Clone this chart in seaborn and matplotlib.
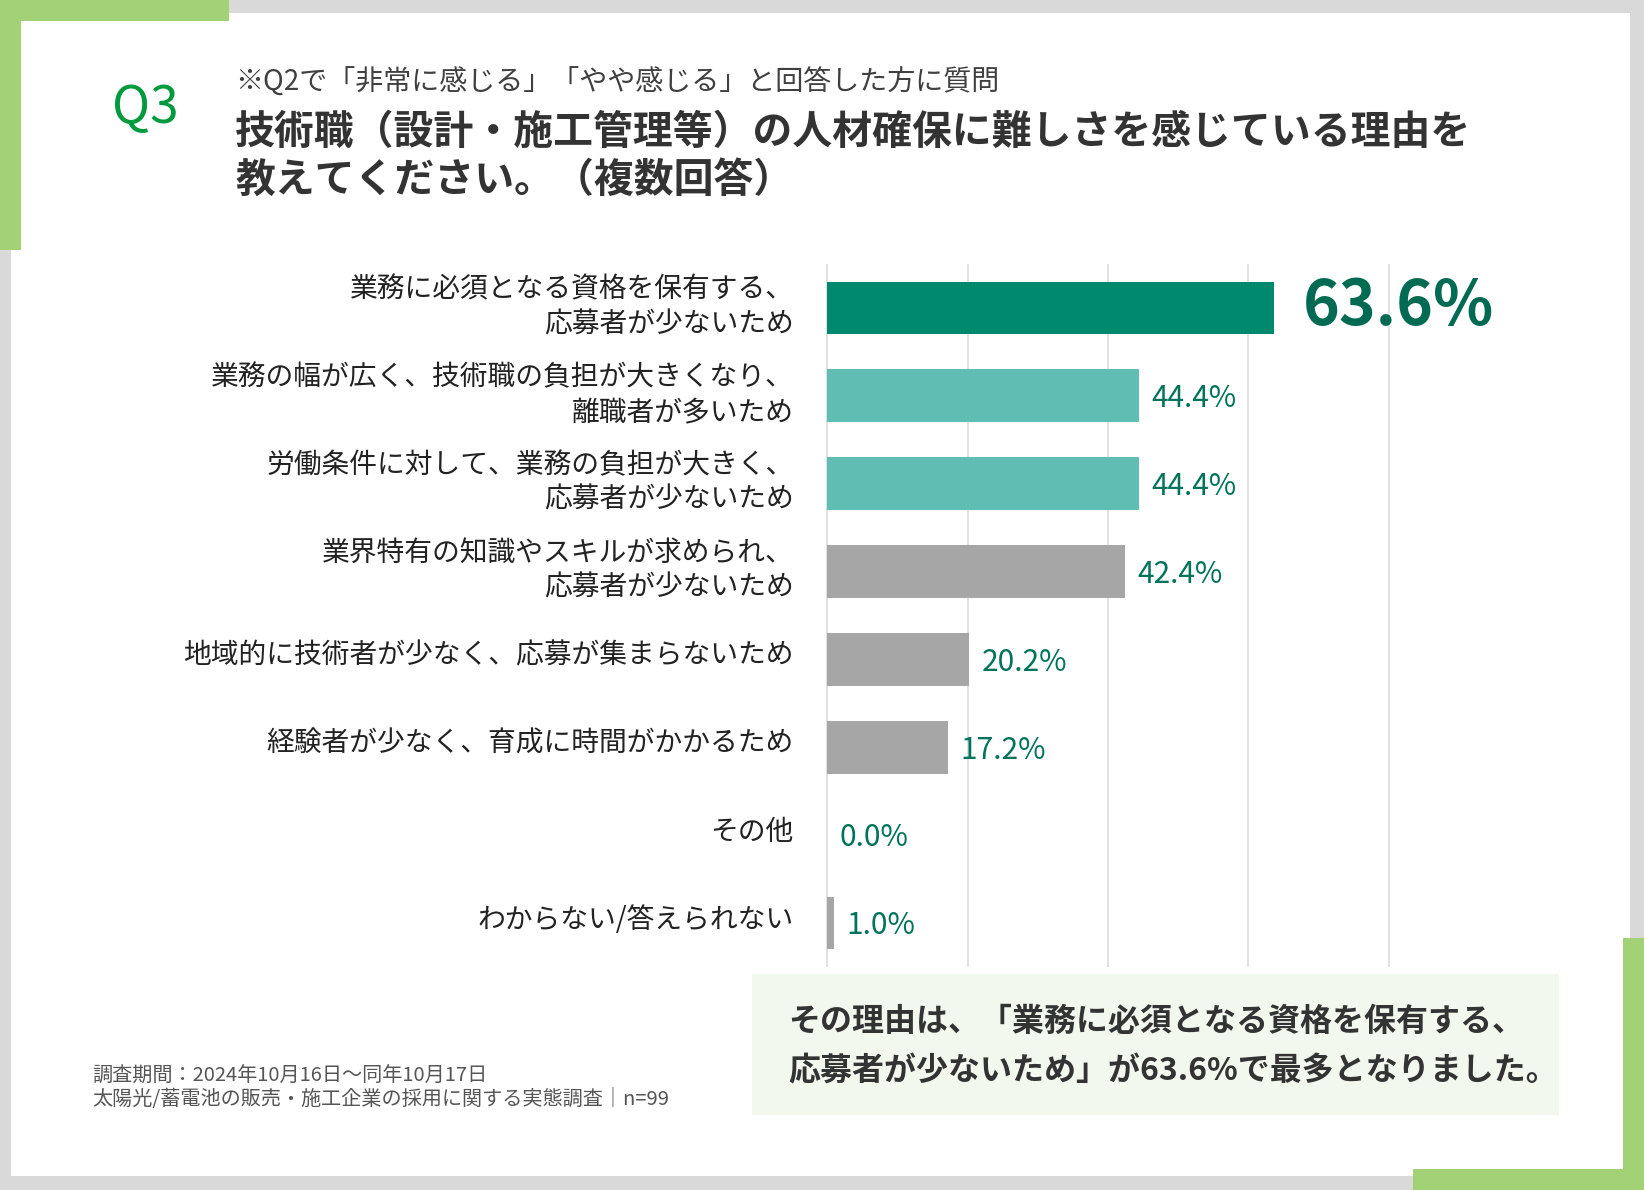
import matplotlib
matplotlib.use('Agg')
import matplotlib.pyplot as plt
from matplotlib.patches import Rectangle
from matplotlib.transforms import ScaledTranslation
import seaborn as sns

# data
categories = [
    '業務に必須となる資格を保有する、\n応募者が少ないため',
    '業務の幅が広く、技術職の負担が大きくなり、\n離職者が多いため',
    '労働条件に対して、業務の負担が大きく、\n応募者が少ないため',
    '業界特有の知識やスキルが求められ、\n応募者が少ないため',
    '地域的に技術者が少なく、応募が集まらないため',
    '経験者が少なく、育成に時間がかかるため',
    'その他',
    'わからない/答えられない',
]
values = [63.6, 44.4, 44.4, 42.4, 20.2, 17.2, 0.0, 1.0]
bar_colors = ['#00896f', '#5fbdb3', '#5fbdb3', '#a6a6a6',
              '#a6a6a6', '#a6a6a6', '#a6a6a6', '#a6a6a6']
grid_ticks = [0, 20, 40, 60, 80]

subtitle = '※Q2で「非常に感じる」「やや感じる」と回答した方に質問'
title_lines = ['技術職（設計・施工管理等）の人材確保に難しさを感じている理由を',
               '教えてください。（複数回答）']
footer_lines = ['調査期間：2024年10月16日～同年10月17日',
                '太陽光/蓄電池の販売・施工企業の採用に関する実態調査｜n=99']
summary_lines = ['その理由は、「業務に必須となる資格を保有する、',
                 '応募者が少ないため」が63.6%で最多となりました。']

sns.set_style('white')
plt.rcParams['font.family'] = ['Noto Sans CJK JP', 'DejaVu Sans']

W, H = 1644, 1190
fig = plt.figure(figsize=(W / 100, H / 100), dpi=100)
fig.patch.set_facecolor('#d9d9d9')


def fx(px):
    return px / W


def fy(py):
    return 1 - py / H


def box(x, y, w, h, color):
    fig.add_artist(Rectangle((fx(x), fy(y + h)), w / W, h / H,
                             transform=fig.transFigure, color=color, lw=0, zorder=0))


# white card and green corner accents
box(10.5, 12.6, 1630 - 10.5, 1176 - 12.6, 'white')
green = '#a3d175'
box(0, 0, 229, 21, green)
box(0, 0, 21, 250, green)
box(1623, 938, 21, 252, green)
box(1413, 1169, 231, 21, green)

# header
fig.text(fx(112), fy(108), 'Q3', va='center', ha='left', fontsize=37, color='#009a3e')
fig.text(fx(235), fy(83), subtitle, va='center', ha='left', fontsize=20.2, color='#404040')
fig.text(fx(235), fy(132), title_lines[0], va='center', ha='left', fontsize=28.7,
         fontweight='bold', color='#333333')
fig.text(fx(235), fy(180), title_lines[1], va='center', ha='left', fontsize=28.7,
         fontweight='bold', color='#333333')

# bar chart
ax = fig.add_axes([fx(820), fy(967), (1396 - 820) / W, (967 - 264) / H])
ax.set_facecolor('none')
sns.barplot(x=values, y=categories, hue=categories, palette=bar_colors, orient='h',
            width=0.6, saturation=1, legend=False, ax=ax, linewidth=0)
ax.set_xlim(-1, 81)
ax.set_ylim(7.5, -0.5)
ax.set_xticks(grid_ticks)
ax.set_xticklabels([])
ax.grid(axis='x', color='#d9d9d9', linewidth=1.1)
ax.grid(axis='y', visible=False)
ax.set_axisbelow(True)
sns.despine(ax=ax, left=True, bottom=True)
ax.tick_params(axis='y', length=0, pad=19, labelsize=20, labelcolor='#222222')
ax.tick_params(axis='x', length=0)
ax.set_xlabel('')
ax.set_ylabel('')
# labels sit a little above the bar centres in the original
lift = ScaledTranslation(0, 0.07, fig.dpi_scale_trans)
for lab in ax.get_yticklabels():
    lab.set_transform(lab.get_transform() + lift)

for i, v in enumerate(values):
    if i == 0:
        ax.annotate(f'{v:.1f}%', xy=(v, i), xytext=(21, 1), textcoords='offset points',
                    va='center', ha='left', fontsize=45, fontweight='bold', color='#006b52')
    else:
        ax.annotate(f'{v:.1f}%', xy=(v, i), xytext=(9, -2), textcoords='offset points',
                    va='center', ha='left', fontsize=21.5, color='#00735b')

# footer
fig.text(fx(92), fy(1076), footer_lines[0], va='center', ha='left', fontsize=14.5, color='#555555')
fig.text(fx(92), fy(1100), footer_lines[1], va='center', ha='left', fontsize=14.5, color='#555555')

# summary box
box(752, 974, 1559 - 752, 1115 - 974, '#f3f8ee')
fig.text(fx(788), fy(1022), summary_lines[0], va='center', ha='left', fontsize=23,
         fontweight='bold', color='#333333')
fig.text(fx(788), fy(1071), summary_lines[1], va='center', ha='left', fontsize=23,
         fontweight='bold', color='#333333')

fig.savefig('out.png', dpi=100, facecolor=fig.get_facecolor())
